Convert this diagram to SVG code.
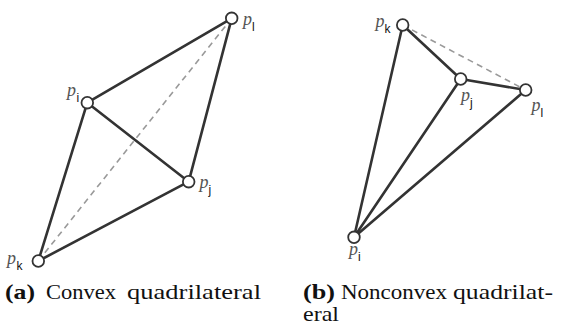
<svg xmlns="http://www.w3.org/2000/svg" width="563" height="328" viewBox="0 0 563 328">
<style>
.e{stroke:#333;stroke-width:2.6;fill:none;stroke-linecap:round}
.d{stroke:#999;stroke-width:1.6;fill:none;stroke-dasharray:6,4.5}
.n{fill:#fff;stroke:#333;stroke-width:1.8}
.p{font-family:"Liberation Serif",serif;font-style:italic;font-size:18px;fill:#555}
.s{font-family:"Liberation Sans",sans-serif;font-size:12px;fill:#111}
.c{font-family:"Liberation Serif",serif;font-size:21px;fill:#111}
.cb{font-family:"Liberation Serif",serif;font-size:21px;font-weight:bold;fill:#111}
</style>
<rect width="563" height="328" fill="#fff"/>
<g id="connectors">
<line class="d" x1="38.3" y1="261" x2="231.7" y2="18.3"/>
<line class="e" x1="87.3" y1="102.7" x2="231.7" y2="18.3"/>
<line class="e" x1="87.3" y1="102.7" x2="188.7" y2="181.7"/>
<line class="e" x1="87.3" y1="102.7" x2="38.3" y2="261"/>
<line class="e" x1="231.7" y1="18.3" x2="188.7" y2="181.7"/>
<line class="e" x1="188.7" y1="181.7" x2="38.3" y2="261"/>
<line class="d" x1="402.7" y1="25" x2="525.7" y2="90"/>
<line class="e" x1="402.7" y1="25" x2="460.7" y2="79"/>
<line class="e" x1="460.7" y1="79" x2="525.7" y2="90"/>
<line class="e" x1="402.7" y1="25" x2="354" y2="237.3"/>
<line class="e" x1="460.7" y1="79" x2="354" y2="237.3"/>
<line class="e" x1="525.7" y1="90" x2="354" y2="237.3"/>
</g>
<g id="a-pl"><circle class="n" cx="231.7" cy="18.3" r="5.8"/><text class="p" x="243" y="25">p</text><text class="s" x="252" y="31">l</text></g>
<g id="a-pi"><circle class="n" cx="87.3" cy="102.7" r="5.8"/><text class="p" x="67" y="96">p</text><text class="s" x="76.5" y="102">i</text></g>
<g id="a-pj"><circle class="n" cx="188.7" cy="181.7" r="5.8"/><text class="p" x="199.5" y="188">p</text><text class="s" x="208.5" y="194">j</text></g>
<g id="a-pk"><circle class="n" cx="38.3" cy="261" r="5.8"/><text class="p" x="7" y="264">p</text><text class="s" x="16.5" y="270">k</text></g>
<g id="b-pk"><circle class="n" cx="402.7" cy="25" r="5.8"/><text class="p" x="375.5" y="27">p</text><text class="s" x="384.5" y="33">k</text></g>
<g id="b-pj"><circle class="n" cx="460.7" cy="79" r="5.8"/><text class="p" x="461" y="101">p</text><text class="s" x="470" y="107">j</text></g>
<g id="b-pl"><circle class="n" cx="525.7" cy="90" r="5.8"/><text class="p" x="531.5" y="111">p</text><text class="s" x="540.5" y="117">l</text></g>
<g id="b-pi"><circle class="n" cx="354" cy="237.3" r="5.8"/><text class="p" x="349" y="255">p</text><text class="s" x="358" y="261">i</text></g>
<g id="captions">
<text class="cb" x="5" y="298.5" textLength="30" lengthAdjust="spacingAndGlyphs">(a)</text>
<text class="c" x="46" y="298.5" textLength="70" lengthAdjust="spacingAndGlyphs">Convex</text>
<text class="c" x="127" y="298.5" textLength="134" lengthAdjust="spacingAndGlyphs">quadrilateral</text>
<text class="cb" x="303" y="298.5" textLength="32" lengthAdjust="spacingAndGlyphs">(b)</text>
<text class="c" x="341" y="298.5" textLength="106" lengthAdjust="spacingAndGlyphs">Nonconvex</text>
<text class="c" x="453" y="298.5" textLength="100" lengthAdjust="spacingAndGlyphs">quadrilat-</text>
<text class="c" x="303" y="321" textLength="36" lengthAdjust="spacingAndGlyphs">eral</text>
</g>
</svg>
